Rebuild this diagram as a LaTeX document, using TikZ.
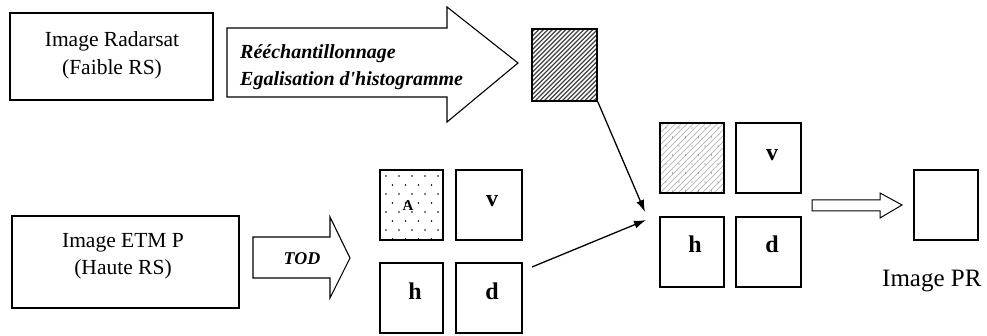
\documentclass[tikz,border=0pt]{standalone}
\usepackage{fontspec}
\setmainfont{Liberation Serif}
\usetikzlibrary{arrows.meta}

\begin{document}
\begin{tikzpicture}[x=1pt,y=-1pt,
  srcbox/.style={draw,line width=1.6pt,inner sep=0pt},
  tile/.style={draw,line width=1.6pt,inner sep=0pt,minimum width=64pt,minimum height=70pt},
  boxtext/.style={anchor=base,inner sep=0pt,font=\fontsize{21.5}{28}\selectfont},
  steptext/.style={anchor=base west,inner sep=0pt,font=\fontsize{20}{27}\selectfont\bfseries\itshape},
  letter/.style={anchor=base,inner sep=0pt,font=\fontsize{24}{24}\selectfont\bfseries},
  bigarrow/.style={draw,fill=white,line width=1.1pt,line join=miter},
  conn/.style={line width=1.3pt,-{Latex[length=12pt,width=8pt]}},
  hatchline/.style={line width=1.3pt,black!75},
  lighthatch/.style={line width=0.9pt,black!25},
]
\useasboundingbox (0,0) rectangle (987,336);

% input images
\node[srcbox, minimum width=203pt, minimum height=87pt] (radar) at (111.5,56.5) {};
\node[boxtext] (radarA) at (112,47) {Image Radarsat};
\node[boxtext] (radarB) at (112,75) {(Faible RS)};

\node[srcbox, minimum width=227pt, minimum height=92pt] (etm) at (125.5,262) {};
\node[boxtext] (etmA) at (123,248) {Image ETM P};
\node[boxtext] (etmB) at (123,275) {(Haute RS)};

% resampling arrow
\draw[bigarrow] (227,28) -- (447,28) -- (447,7) -- (518,63) -- (447,122) -- (447,97) -- (227,97) -- cycle;
\node[steptext] (resamp) at (240,59) {Rééchantillonnage};
\node[steptext] (egal) at (240,86) {Egalisation d\textquotesingle histogramme};

% resampled radar image (hatched)
\node[tile, minimum width=65pt, minimum height=72pt] (hatch) at (564.5,65) {};
\begin{scope}
  \clip (hatch.south west) rectangle (hatch.north east);
  \foreach \k in {-80,-75.5,...,80} \draw[hatchline] (532+\k,103) -- ++(76,-76);
\end{scope}
\node[tile, minimum width=65pt, minimum height=72pt] at (hatch) {};

% TOD arrow
\draw[bigarrow] (253,237) -- (330,237) -- (330,217) -- (350,258) -- (330,298) -- (330,278) -- (253,278) -- cycle;
\node[steptext, anchor=base, font=\fontsize{18}{18}\selectfont\bfseries\itshape] (tod) at (302,265) {TOD};

% wavelet planes of the ETM image
\node[tile, minimum width=63pt] (A1) at (411.5,205) {};
\begin{scope}
  \clip (A1.south west) rectangle (A1.north east);
  \foreach \r in {0,...,7} {
    \pgfmathsetmacro\off{mod(\r,2)*6.5}
    \foreach \c in {0,...,5} \fill (386+\off+\c*13,176+\r*9) circle (0.9pt);
  }
\end{scope}
\node[tile, minimum width=63pt] at (A1) {};
\node[letter, font=\fontsize{15}{15}\selectfont\bfseries] (Alab) at (408,211) {A};
\node[tile, minimum width=66pt] (v1) at (489,205) {};
\node[letter] (vlab1) at (492,207) {v};
\node[tile, minimum width=63pt] (h1) at (411.5,298) {};
\node[letter] (hlab1) at (415,300) {h};
\node[tile, minimum width=66pt] (d1) at (489,298) {};
\node[letter] (dlab1) at (492,300) {d};

% merged planes
\node[tile] (A2) at (692,158) {};
\begin{scope}
  \clip (A2.south west) rectangle (A2.north east);
  \foreach \k in {-80,-74,...,80} \draw[lighthatch] (660+\k,195) -- ++(76,-76);
  \foreach \r in {0,...,7} {
    \pgfmathsetmacro\off{mod(\r,2)*6.5}
    \foreach \c in {0,...,5} \fill[black!60] (666+\off+\c*13,128+\r*9) circle (0.7pt);
  }
\end{scope}
\node[tile] at (A2) {};
\node[tile, minimum width=65pt] (v2) at (768.5,158) {};
\node[letter] (vlab2) at (772,161) {v};
\node[tile] (h2) at (692,252) {};
\node[letter] (hlab2) at (695,253) {h};
\node[tile, minimum width=65pt] (d2) at (768.5,252) {};
\node[letter] (dlab2) at (772,253) {d};

% connectors into the merged planes
\coordinate (join1) at (645,212);
\coordinate (join2) at (646,220);
\coordinate (dtail) at (532,267);
\draw[conn] (hatch.south east) -- (join1);
\draw[conn] (dtail) -- (join2);

% inverse transform arrow and result
\draw[bigarrow, line width=1pt] (812,200) -- (880,200) -- (880,193) -- (902,205) -- (880,218) -- (880,211) -- (812,211) -- cycle;
\node[tile] (pr) at (946,205) {};
\node[anchor=base west,inner sep=0pt,font=\fontsize{25}{25}\selectfont] (prlab) at (882,287) {Image PR};
\end{tikzpicture}
\end{document}
